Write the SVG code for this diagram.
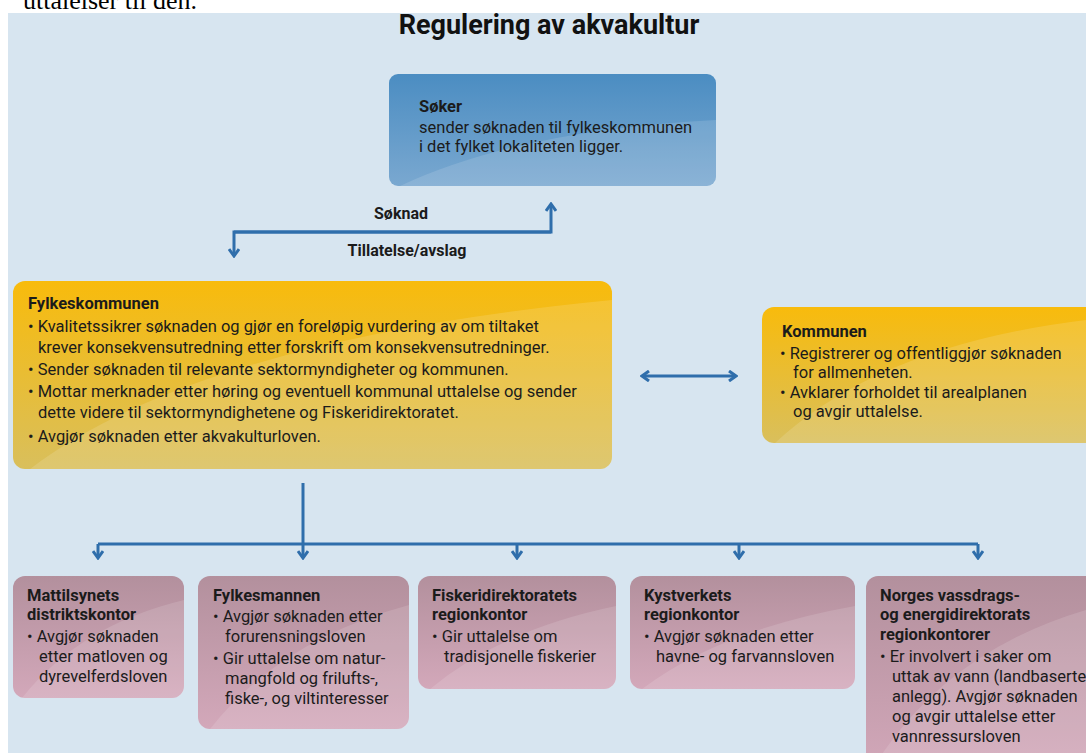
<svg xmlns="http://www.w3.org/2000/svg" width="1086" height="753" viewBox="0 0 1086 753">
<style>
.t{font-family:Roboto,"Liberation Sans",sans-serif;fill:#1b1b1b;font-size:16.5px}
.b{font-weight:bold}
.lbl{font-family:Roboto,"Liberation Sans",sans-serif;fill:#1b1b1b;font-size:16px;font-weight:bold}
.ttl{font-family:Roboto,"Liberation Sans",sans-serif;fill:#111;font-size:27px;font-weight:bold}
.con{fill:none;stroke:#2f6eab;stroke-width:3}
.sheen{fill:#ffffff;opacity:0.13}
</style>
<defs>
<linearGradient id="gBlue" x1="0" y1="0" x2="0" y2="1"><stop offset="0" stop-color="#4b8dc2"/><stop offset="1" stop-color="#7aa8d0"/></linearGradient>
<linearGradient id="gYel" x1="0" y1="0" x2="0" y2="1"><stop offset="0" stop-color="#f8bb0c"/><stop offset="1" stop-color="#d9bf5c"/></linearGradient>
<linearGradient id="gPink" x1="0" y1="0" x2="0" y2="1"><stop offset="0" stop-color="#b3909d"/><stop offset="1" stop-color="#d3a8ba"/></linearGradient>
<marker id="ah" viewBox="0 0 10 12" refX="8" refY="6" markerWidth="10" markerHeight="12" markerUnits="userSpaceOnUse" orient="auto-start-reverse">
<path d="M1,1 L8,6 L1,11" fill="none" stroke="#2f6eab" stroke-width="3"/>
</marker>
</defs>
<rect x="0" y="0" width="1086" height="753" fill="#ffffff"/>
<text x="197" y="9" text-anchor="end" style="font-family:'Liberation Serif',serif;font-size:26px;fill:#000">uttalelser til den.</text>
<rect x="8" y="13" width="1078" height="740" fill="#d7e5f0"/>
<text class="ttl" x="549" y="34" text-anchor="middle">Regulering av akvakultur</text>

<g id="connectors">
<path class="con" d="M234,232 H551 V204" marker-end="url(#ah)"/>
<path class="con" d="M551,232 H234 V256" marker-end="url(#ah)"/>
<path class="con" d="M642,376 H736" marker-start="url(#ah)" marker-end="url(#ah)"/>
<path class="con" d="M303,483 V544"/>
<path class="con" d="M98,544 H978"/>
<path class="con" d="M98,544 V558" marker-end="url(#ah)"/>
<path class="con" d="M303,544 V558" marker-end="url(#ah)"/>
<path class="con" d="M517,544 V558" marker-end="url(#ah)"/>
<path class="con" d="M739,544 V558" marker-end="url(#ah)"/>
<path class="con" d="M978,544 V558" marker-end="url(#ah)"/>
<text class="lbl" x="401" y="219" text-anchor="middle">Søknad</text>
<text class="lbl" x="407" y="256" text-anchor="middle">Tillatelse/avslag</text>
</g>

<g id="soker">
<rect x="389" y="74" width="327" height="112" rx="9" fill="url(#gBlue)"/>
<path class="sheen" d="M400,186 Q520,130 716,120 V178 Q716,186 708,186 Z"/>
<text class="t b" x="419" y="112">Søker</text>
<text class="t" x="419" y="133">sender søknaden til fylkeskommunen</text>
<text class="t" x="419" y="152">i det fylket lokaliteten ligger.</text>
</g>

<g id="fylkeskommunen">
<rect x="13" y="281" width="599" height="188" rx="12" fill="url(#gYel)"/>
<path class="sheen" d="M30,469 Q200,340 612,300 V457 Q612,469 600,469 Z"/>
<text class="t b" x="28" y="309">Fylkeskommunen</text>
<text class="t" x="28" y="332">• Kvalitetssikrer søknaden og gjør en foreløpig vurdering av om tiltaket</text>
<text class="t" x="38" y="353">krever konsekvensutredning etter forskrift om konsekvensutredninger.</text>
<text class="t" x="28" y="375">• Sender søknaden til relevante sektormyndigheter og kommunen.</text>
<text class="t" x="28" y="397">• Mottar merknader etter høring og eventuell kommunal uttalelse og sender</text>
<text class="t" x="38" y="418">dette videre til sektormyndighetene og Fiskeridirektoratet.</text>
<text class="t" x="28" y="442">• Avgjør søknaden etter akvakulturloven.</text>
</g>

<g id="kommunen">
<rect x="762" y="307" width="340" height="136" rx="12" fill="url(#gYel)"/>
<path class="sheen" d="M775,443 Q880,345 1086,320 V443 Z"/>
<text class="t b" x="782" y="337">Kommunen</text>
<text class="t" x="780" y="359">• Registrerer og offentliggjør søknaden</text>
<text class="t" x="793" y="378">for allmenheten.</text>
<text class="t" x="780" y="398">• Avklarer forholdet til arealplanen</text>
<text class="t" x="793" y="417">og avgir uttalelse.</text>
</g>

<g id="mattilsynet">
<rect x="13" y="576" width="171" height="122" rx="12" fill="url(#gPink)"/>
<path class="sheen" d="M22,698 Q80,625 184,600 V686 Q184,698 172,698 Z"/>
<text class="t b" x="27" y="601">Mattilsynets</text>
<text class="t b" x="27" y="620">distriktskontor</text>
<text class="t" x="27" y="642">• Avgjør søknaden</text>
<text class="t" x="39" y="662">etter matloven og</text>
<text class="t" x="39" y="682">dyrevelferdsloven</text>
</g>

<g id="fylkesmannen">
<rect x="198" y="576" width="211" height="153" rx="12" fill="url(#gPink)"/>
<path class="sheen" d="M210,729 Q280,640 409,605 V717 Q409,729 397,729 Z"/>
<text class="t b" x="213" y="601">Fylkesmannen</text>
<text class="t" x="213" y="622">• Avgjør søknaden etter</text>
<text class="t" x="225" y="642">forurensningsloven</text>
<text class="t" x="213" y="664">• Gir uttalelse om natur-</text>
<text class="t" x="225" y="684">mangfold og frilufts-,</text>
<text class="t" x="225" y="704">fiske-, og viltinteresser</text>
</g>

<g id="fiskeridirektoratet">
<rect x="418" y="576" width="198" height="113" rx="12" fill="url(#gPink)"/>
<path class="sheen" d="M430,689 Q500,630 616,606 V677 Q616,689 604,689 Z"/>
<text class="t b" x="432" y="601">Fiskeridirektoratets</text>
<text class="t b" x="432" y="620">regionkontor</text>
<text class="t" x="432" y="642">• Gir uttalelse om</text>
<text class="t" x="444" y="662">tradisjonelle fiskerier</text>
</g>

<g id="kystverket">
<rect x="630" y="576" width="225" height="113" rx="12" fill="url(#gPink)"/>
<path class="sheen" d="M642,689 Q720,630 855,606 V677 Q855,689 843,689 Z"/>
<text class="t b" x="644" y="601">Kystverkets</text>
<text class="t b" x="644" y="620">regionkontor</text>
<text class="t" x="644" y="642">• Avgjør søknaden etter</text>
<text class="t" x="656" y="662">havne- og farvannsloven</text>
</g>

<g id="nve">
<rect x="866" y="576" width="240" height="200" rx="12" fill="url(#gPink)"/>
<path class="sheen" d="M878,760 Q950,650 1086,610 V760 Z"/>
<text class="t b" x="880" y="601">Norges vassdrags-</text>
<text class="t b" x="880" y="620">og energidirektorats</text>
<text class="t b" x="880" y="640">regionkontorer</text>
<text class="t" x="880" y="662">• Er involvert i saker om</text>
<text class="t" x="892" y="682">uttak av vann (landbaserte</text>
<text class="t" x="892" y="702">anlegg). Avgjør søknaden</text>
<text class="t" x="892" y="722">og avgir uttalelse etter</text>
<text class="t" x="892" y="742">vannressursloven</text>
</g>
</svg>
